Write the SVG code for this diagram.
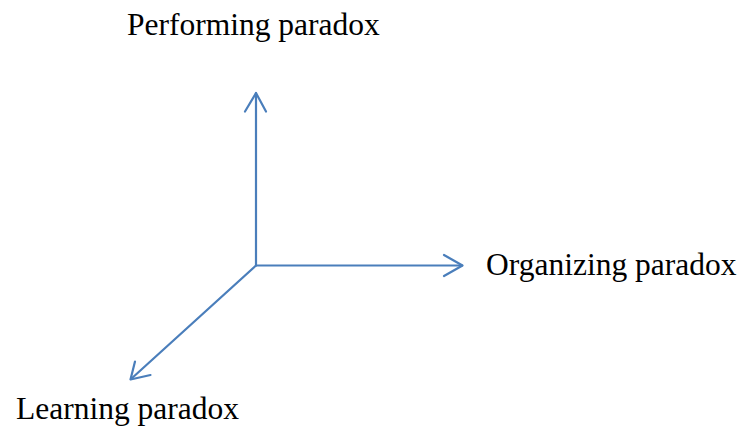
<svg xmlns="http://www.w3.org/2000/svg" width="744" height="434" viewBox="0 0 744 434">
<style>
.ax{stroke:#4A7EBB;stroke-width:2.2;fill:none;stroke-linecap:round;stroke-linejoin:round}
.lb{font-family:"Liberation Serif","Times New Roman",serif;font-size:31.5px;fill:#000}
</style>
<rect width="744" height="434" fill="#fff"/>
<g id="connectors">
<path class="ax" d="M256 265.5 L256 93"/>
<path class="ax" d="M245 111.5 L256 93 L266 111.5"/>
<path class="ax" d="M256 265.5 L462 265.5"/>
<path class="ax" d="M444 255 L462.5 265.5 L444 276"/>
<path class="ax" d="M256 265.5 L131 379"/>
<path class="ax" d="M135 361.5 L130.5 379.5 L150.5 375"/>
</g>
<g id="performing"><text class="lb" x="127" y="35">Performing paradox</text></g>
<g id="organizing"><text class="lb" x="486" y="275">Organizing paradox</text></g>
<g id="learning"><text class="lb" x="16" y="419">Learning paradox</text></g>
</svg>
